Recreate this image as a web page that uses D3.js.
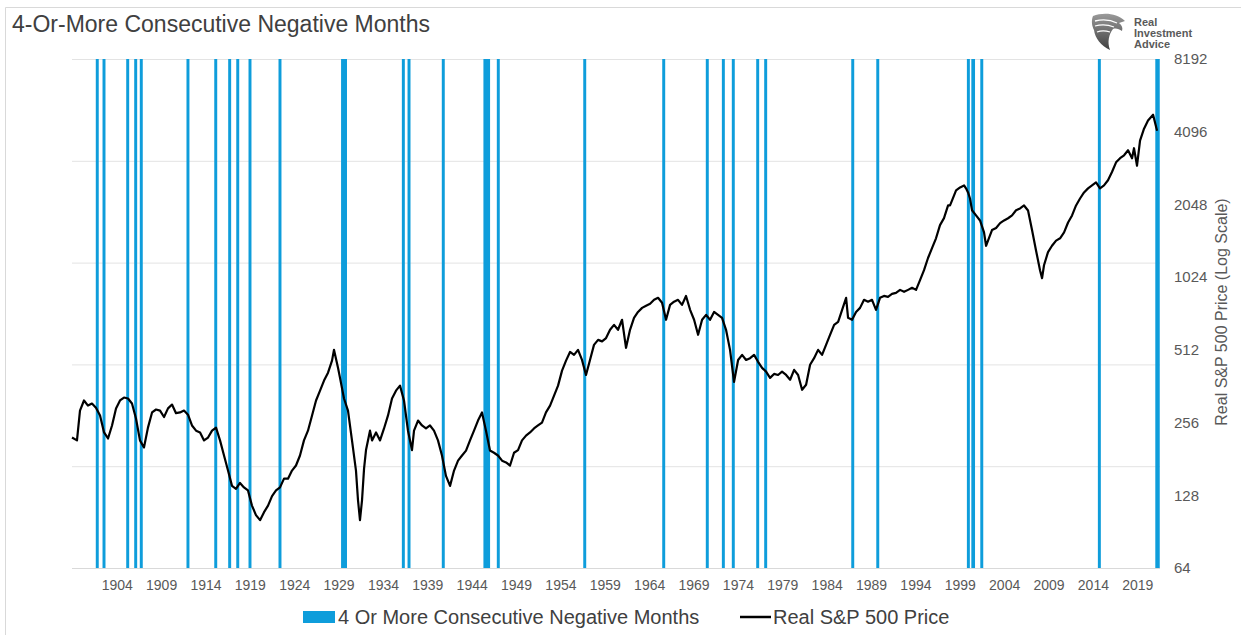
<!DOCTYPE html>
<html><head><meta charset="utf-8">
<script src="https://cdn.jsdelivr.net/npm/d3@7"></script>
<style>
body{margin:0;background:#fff;}
svg{display:block;font-family:"Liberation Sans",Arial,sans-serif;}
</style></head>
<body><svg id="c" width="1241" height="635"></svg>
<script>
// ---- data ----
const tickYears = [1904,1909,1914,1919,1924,1929,1934,1939,1944,1949,1954,1959,1964,1969,1974,1979,1984,1989,1994,1999,2004,2009,2014,2019];
const priceTicks = [64,128,256,512,1024,2048,4096,8192];
const gridLevels = [0.2,0.4,0.6,0.8,1.0];
// streaks of 4+ consecutive negative months: start (decimal year) and length in months
const barStart = [1901.64,1902.40,1905.07,1905.97,1906.60,1911.86,1914.99,1916.56,1917.47,1918.85,1922.23,1929.28,1936.13,1936.77,1940.63,1945.32,1946.83,1956.57,1965.47,1970.38,1972.19,1973.31,1976.06,1976.96,1986.77,1989.59,1999.80,2000.30,2001.31,2014.56,2021.03];
const barMonths = [4,4,4,4,4,4,4,4,4,4,4,8,4,4,4,9,4,4,4,4,4,4,4,4,4,4,4,5,4,4,6];
// Real S&P 500 price
const lineYear = [1898.96,1899.52,1899.86,1900.31,1900.76,1901.21,1901.66,1902.12,1902.57,1903.02,1903.47,1903.92,1904.37,1904.82,1905.27,1905.72,1906.17,1906.62,1907.07,1907.52,1907.98,1908.43,1908.88,1909.33,1909.78,1910.23,1910.68,1911.13,1911.58,1912.03,1912.48,1912.94,1913.39,1913.84,1914.29,1914.74,1915.19,1915.64,1916.09,1916.54,1916.99,1917.44,1917.89,1918.34,1918.79,1919.24,1919.69,1920.15,1920.60,1921.05,1921.50,1921.95,1922.40,1922.85,1923.30,1923.75,1924.20,1924.65,1925.10,1925.55,1926.01,1926.46,1926.91,1927.36,1927.81,1928.26,1928.48,1928.94,1929.16,1929.61,1930.06,1930.51,1930.96,1931.19,1931.41,1931.64,1931.87,1932.09,1932.54,1932.77,1933.22,1933.67,1934.12,1934.57,1935.02,1935.47,1935.92,1936.37,1936.82,1937.27,1937.50,1937.95,1938.40,1938.85,1939.30,1939.75,1940.20,1940.65,1941.10,1941.56,1942.01,1942.46,1942.91,1943.36,1943.81,1944.26,1944.71,1945.16,1945.61,1946.06,1946.51,1946.96,1947.42,1947.87,1948.32,1948.77,1949.22,1949.67,1950.12,1950.57,1951.02,1951.47,1951.92,1952.37,1952.83,1953.28,1953.73,1954.18,1954.63,1955.08,1955.53,1955.98,1956.43,1956.88,1957.33,1957.78,1958.24,1958.69,1959.14,1959.59,1960.04,1960.49,1960.94,1961.39,1961.84,1962.29,1962.74,1963.20,1963.65,1964.10,1964.55,1965.00,1965.45,1965.90,1966.35,1966.80,1967.25,1967.70,1968.15,1968.61,1969.06,1969.51,1969.96,1970.41,1970.86,1971.31,1971.76,1972.21,1972.66,1973.11,1973.56,1974.02,1974.47,1974.92,1975.37,1975.82,1976.27,1976.72,1977.17,1977.62,1978.07,1978.52,1978.97,1979.43,1979.88,1980.33,1980.78,1981.23,1981.68,1982.13,1982.58,1983.03,1983.48,1983.93,1984.38,1984.84,1985.29,1985.74,1986.19,1986.41,1986.86,1987.31,1987.76,1988.21,1988.66,1989.11,1989.56,1990.01,1990.46,1990.91,1991.36,1991.81,1992.27,1992.72,1993.17,1993.62,1994.07,1994.52,1994.97,1995.42,1995.87,1996.32,1996.77,1997.22,1997.68,1997.90,1998.13,1998.58,1999.03,1999.48,1999.70,1999.93,2000.15,2000.38,2000.83,2001.28,2001.73,2001.96,2002.18,2002.63,2003.09,2003.54,2003.99,2004.44,2004.89,2005.34,2005.79,2006.24,2006.69,2007.14,2007.59,2008.04,2008.27,2008.49,2008.94,2009.39,2009.85,2010.30,2010.75,2011.20,2011.65,2012.10,2012.55,2013.00,2013.45,2013.90,2014.35,2014.80,2015.25,2015.70,2016.15,2016.61,2017.06,2017.51,2017.96,2018.41,2018.63,2018.97,2019.31,2019.76,2020.21,2020.78,2021.23];
const lineValue = [222,216,287,316,301,307,295,274,233,220,249,293,316,325,322,307,266,216,202,244,282,290,287,270,293,304,280,282,287,276,249,237,233,216,222,237,244,216,187,162,140,136,144,138,134,116,106,101,109,116,127,134,138,150,150,162,170,187,216,237,274,316,347,382,412,462,512,431,392,322,287,216,162,122,101,122,165,197,237,216,233,216,242,274,322,347,364,316,237,197,237,261,249,242,249,237,216,187,154,140,162,178,187,196,216,237,261,282,237,196,192,187,178,175,170,192,197,216,226,233,242,249,256,282,301,331,364,420,462,502,488,512,465,403,465,537,563,555,573,620,650,620,682,522,620,695,735,764,780,794,825,841,802,682,786,810,825,786,856,750,682,591,682,715,682,735,715,695,620,512,377,465,488,465,473,488,457,431,416,392,407,403,416,403,385,423,403,350,367,444,473,512,488,537,591,650,669,750,841,695,682,735,764,825,810,825,750,841,856,849,873,881,907,890,907,925,907,995,1094,1229,1350,1483,1681,1797,2028,2028,2128,2341,2409,2454,2387,2296,2167,1938,1844,1758,1568,1381,1451,1604,1636,1713,1758,1795,1844,1938,1971,2028,1933,1604,1320,1094,1014,1147,1300,1381,1451,1483,1568,1724,1844,2028,2167,2296,2387,2454,2526,2387,2454,2579,2790,3060,3181,3272,3432,3181,3500,2962,3760,4215,4555,4816,4135];

// ---- chart ----
const svg = d3.select("#c");
const L = 72, R = 1160, T = 59, B = 568;
const x = d3.scaleLinear().domain([1898.96, 2021.56]).range([L, R]);
const yP = d3.scaleLinear().domain([0, 1]).range([B, T]);
const yL = d3.scaleLog().base(2).domain([64, 8192]).range([B, T]);

// frame
svg.append("path").attr("d", `M5.5,635 V7.5 H1241`).attr("fill","none").attr("stroke","#d9d9d9").attr("stroke-width",1);

// title
svg.append("text").attr("x", 12).attr("y", 32).attr("font-size", 23).attr("fill", "#404040").text("4-Or-More Consecutive Negative Months");

// gridlines (primary axis)
svg.append("g").selectAll("line").data(gridLevels).join("line")
  .attr("x1", L).attr("x2", R).attr("y1", d => yP(d) + 0.5).attr("y2", d => yP(d) + 0.5)
  .attr("stroke", "#e3e3e3").attr("stroke-width", 1);

// bars
svg.append("g").selectAll("rect").data(barStart.map((s, i) => ({s, m: barMonths[i]}))).join("rect")
  .attr("x", d => x(d.s)).attr("width", d => x(d.s + d.m / 12) - x(d.s))
  .attr("y", yP(1)).attr("height", yP(0) - yP(1))
  .attr("fill", "#0e9ddb");

// x axis line
svg.append("line").attr("x1", L).attr("x2", R).attr("y1", B + 0.5).attr("y2", B + 0.5).attr("stroke", "#d9d9d9");

// price line
const pts = lineYear.map((yr, i) => [yr, lineValue[i]]);
svg.append("path").datum(pts)
  .attr("d", d3.line().x(d => x(d[0])).y(d => yL(d[1])))
  .attr("fill", "none").attr("stroke", "#000").attr("stroke-width", 2.2).attr("stroke-linejoin", "round");

// bottom axis
const xa = svg.append("g").attr("transform", `translate(0,${B})`)
  .call(d3.axisBottom(x).tickValues(tickYears).tickFormat(d3.format("d")).tickSize(0).tickPadding(12));
xa.select(".domain").remove();
xa.selectAll("text").attr("font-size", 14).attr("fill", "#595959").attr("font-family", "Liberation Sans, Arial, sans-serif");

// right axis
const ya = svg.append("g").attr("transform", `translate(${R},0)`)
  .call(d3.axisRight(yL).tickValues(priceTicks).tickFormat(d3.format("d")).tickSize(0).tickPadding(14));
ya.select(".domain").remove();
ya.selectAll("text").attr("font-size", 15).attr("fill", "#595959").attr("font-family", "Liberation Sans, Arial, sans-serif");

svg.append("text").attr("transform", "translate(1223,312) rotate(-90)").attr("text-anchor", "middle")
  .attr("dominant-baseline", "middle").attr("font-size", 16).attr("fill", "#595959")
  .text("Real S&P 500 Price (Log Scale)");

// legend
const lg = svg.append("g");
lg.append("rect").attr("x", 303).attr("y", 611).attr("width", 32).attr("height", 12).attr("fill", "#0e9ddb");
lg.append("text").attr("x", 338).attr("y", 617).attr("dominant-baseline", "central").attr("font-size", 20).attr("fill", "#404040").text("4 Or More Consecutive Negative Months");
lg.append("line").attr("x1", 740).attr("x2", 771).attr("y1", 617).attr("y2", 617).attr("stroke", "#000").attr("stroke-width", 2.5);
lg.append("text").attr("x", 773).attr("y", 617).attr("dominant-baseline", "central").attr("font-size", 20).attr("fill", "#404040").text("Real S&P 500 Price");

// logo
const logo = svg.append("g").attr("transform", "translate(1089,12)");
const gr = svg.append("defs").append("linearGradient").attr("id", "eg").attr("x1", 0).attr("y1", 0).attr("x2", 0).attr("y2", 1);
gr.append("stop").attr("offset", 0).attr("stop-color", "#9a9a9a");
gr.append("stop").attr("offset", 1).attr("stop-color", "#3f3f3f");
logo.append("path").attr("d", "M4,4 C14,0 28,1 36,9 L30,11 C33,13 34,16 33,19 C30,17 27,16 24,17 C20,22 18,30 21,38 C12,34 6,26 5,18 C3,14 2,9 4,4 Z").attr("fill", "url(#eg)");
logo.append("path").attr("d", "M6,9 C14,7 22,8 28,11 M6,14 C13,12 20,13 25,15 M8,20 C13,18 18,19 21,20").attr("stroke", "#fff").attr("stroke-width", 1.3).attr("fill", "none");
const lt = svg.append("g").attr("font-size", 11).attr("font-weight", "bold").attr("fill", "#5a5a5a");
lt.append("text").attr("x", 1134).attr("y", 26).text("Real");
lt.append("text").attr("x", 1134).attr("y", 37).text("Investment");
lt.append("text").attr("x", 1134).attr("y", 48).text("Advice");
</script></body></html>
